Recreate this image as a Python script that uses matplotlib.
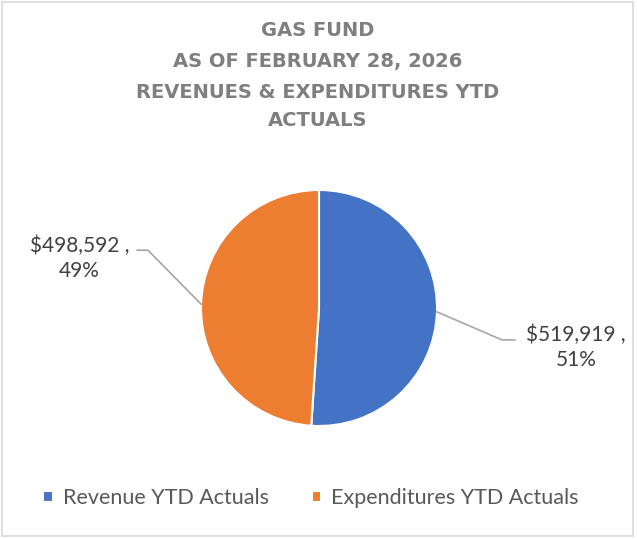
import numpy as np
import matplotlib.pyplot as plt
from matplotlib.patches import Rectangle

# Данные
categories = ["Revenue YTD Actuals", "Expenditures YTD Actuals"]
values = [519919, 498592]
colors = ["#4472C4", "#ED7D31"]
title_lines = ["GAS FUND", "AS OF FEBRUARY 28, 2026",
               "REVENUES & EXPENDITURES YTD", "ACTUALS"]

W, H = 637, 539
fig = plt.figure(figsize=(W / 100, H / 100), dpi=100)
fig.patch.set_facecolor("white")

# рамка вокруг диаграммы
fig.patches.append(Rectangle((2 / W, 3 / H), 631 / W, 534 / H, transform=fig.transFigure,
                             fill=False, edgecolor="#d9d9d9", linewidth=1.2))

# заголовок
title_y = [30, 62, 92, 120]
for line, y in zip(title_lines, title_y):
    fig.text(318 / W, 1 - y / H, line, ha="center", va="center", fontsize=14,
             fontweight="bold", color="#7f7f7f", family="DejaVu Sans")

# круговая диаграмма
cx, cy, r = 319, 308, 118
ax = fig.add_axes([(cx - r) / W, (H - cy - r) / H, 2 * r / W, 2 * r / H])
wedges, _ = ax.pie(values, colors=colors, startangle=90, counterclock=False,
                   wedgeprops=dict(edgecolor="white", linewidth=1.5))
ax.set_xlim(-1, 1)
ax.set_ylim(-1, 1)
ax.set_aspect("equal")
ax.axis("off")

total = sum(values)
labels = [f"${v:,.0f} ,\n{v / total * 100:.0f}%" for v in values]

# подписи и выноски
label_pos = [(2.18, -0.33), (-2.03, 0.42)]
elbows = [[(1.55, -0.27), (1.66, -0.27)], [(-1.45, 0.49), (-1.54, 0.49)]]
for w, lab, pos, el in zip(wedges, labels, label_pos, elbows):
    ang = np.deg2rad((w.theta1 + w.theta2) / 2)
    edge = (np.cos(ang), np.sin(ang))
    xs = [edge[0], el[0][0], el[1][0]]
    ys = [edge[1], el[0][1], el[1][1]]
    ax.plot(xs, ys, color="#a6a6a6", linewidth=1.2, clip_on=False)
    ax.text(pos[0], pos[1], lab, ha="center", va="center", fontsize=15,
            color="#404040", family="Lato", linespacing=1.3, clip_on=False)

# легенда
fig.legend(wedges, categories, loc="center", bbox_to_anchor=(311 / W, 1 - 498 / H),
           ncol=2, frameon=False, handlelength=0.45, handleheight=0.45,
           handletextpad=0.45, columnspacing=2.0,
           prop=dict(family="Lato", size=15.5), labelcolor="#595959")

fig.savefig("out.png", dpi=100)
